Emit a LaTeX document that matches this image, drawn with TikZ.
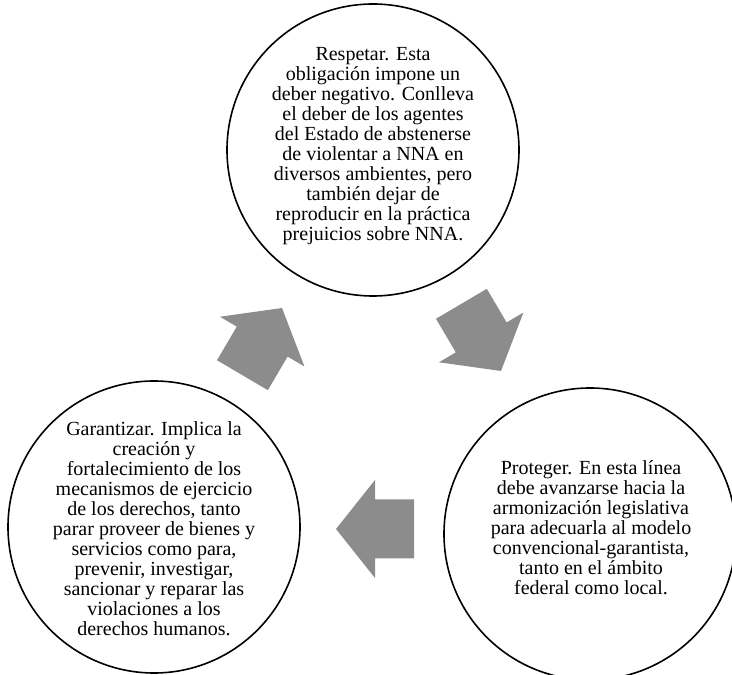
\documentclass[tikz,border=0pt]{standalone}
\usepackage{fontspec}
\setmainfont{Liberation Serif}
\definecolor{arrowgray}{RGB}{140,140,140}
\begin{document}
\begin{tikzpicture}[x=1pt,y=1pt,
  circ/.style={draw=black,line width=1.6pt,circle,minimum size=292pt,inner sep=0pt},
  txt/.style={align=center,inner sep=0pt,font=\fontsize{20}{20}\selectfont},
  fatarrow/.pic={\fill[arrowgray] (0,0) -- (-39,49) -- (-39,29.5) -- (-78,29.5) -- (-78,-29.5) -- (-39,-29.5) -- (-39,-49) -- cycle;}]
\useasboundingbox (0,0) rectangle (732,675);
\node[circ] (top) at (373,525) {};
\node[circ] (left) at (154,148) {};
\node[circ] (right) at (590,141) {};
\node[txt] (toptxt) at (373,529) {Respetar. Esta\\obligación impone un\\deber negativo. Conlleva\\el deber de los agentes\\del Estado de abstenerse\\de violentar a NNA en\\diversos ambientes, pero\\también dejar de\\reproducir en la práctica\\prejuicios sobre NNA.};
\node[txt] (lefttxt) at (154,146) {Garantizar. Implica la\\creación y\\fortalecimiento de los\\mecanismos de ejercicio\\de los derechos, tanto\\parar proveer de bienes y\\servicios como para,\\prevenir, investigar,\\sancionar y reparar las\\violaciones a los\\derechos humanos.};
\node[txt] (righttxt) at (591,147) {Proteger. En esta línea\\debe avanzarse hacia la\\armonización legislativa\\para adecuarla al modelo\\convencional-garantista,\\tanto en el ámbito\\federal como local.};
\pic[rotate=59.5] at (282,367) {fatarrow};
\pic[rotate=-59.5] at (501,304) {fatarrow};
\pic[rotate=180] at (336,146) {fatarrow};
\end{tikzpicture}
\end{document}
